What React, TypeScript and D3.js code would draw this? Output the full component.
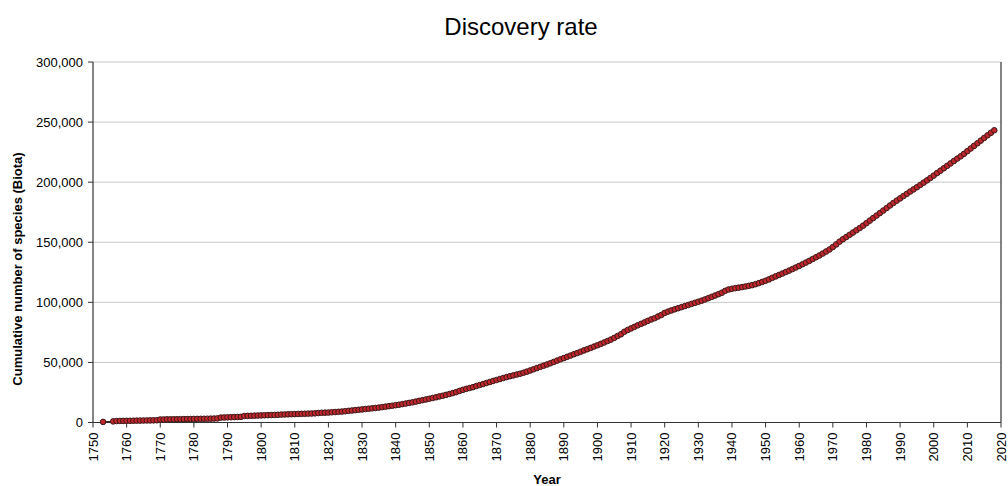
import React from "react";
import * as d3 from "d3";

const years: number[] = [1753, 1756, 1757];
for (let y = 1758; y <= 2018; y++) years.push(y);

const cumulativeSpecies: number[] = [
  500, 900, 1200,
  // 1758-1769
  1300, 1350, 1400, 1450, 1500, 1550, 1600, 1650, 1700, 1750, 1800, 1850,
  // 1770s
  2500, 2550, 2600, 2650, 2700, 2700, 2750, 2800, 2850, 2900,
  // 1780s
  2950, 3000, 3050, 3100, 3150, 3200, 3300, 3400, 4100, 4200,
  // 1790s
  4300, 4400, 4500, 4600, 4700, 5400, 5500, 5600, 5700, 5800,
  // 1800s
  5900, 6000, 6100, 6200, 6300, 6400, 6600, 6700, 6800, 6900,
  // 1810s
  7000, 7100, 7200, 7300, 7400, 7500, 7600, 7900, 8100, 8200,
  // 1820s
  8300, 8500, 8700, 8900, 9100, 9400, 9700, 10000, 10300, 10600,
  // 1830s
  10900, 11200, 11500, 11800, 12100, 12400, 12800, 13200, 13600, 14000,
  // 1840s
  14400, 14800, 15300, 15800, 16300, 16800, 17400, 18000, 18600, 19200,
  // 1850s
  19800, 20400, 21000, 21700, 22300, 23000, 23700, 24500, 25300, 26300,
  // 1860s
  27200, 28000, 28700, 29400, 30400, 31200, 32000, 32900, 33700, 34600,
  // 1870s
  35400, 36200, 37000, 37800, 38500, 39200, 39900, 40600, 41400, 42300,
  // 1880s
  43300, 44300, 45300, 46300, 47300, 48300, 49300, 50400, 51500, 52600,
  // 1890s
  53600, 54700, 55700, 56800, 57800, 58900, 60000, 61000, 62100, 63200,
  // 1900s
  64300, 65400, 66600, 67800, 69000, 70400, 72000, 73400, 75500, 77000,
  // 1910s
  78300, 79600, 80900, 82100, 83300, 84600, 85800, 86800, 88200, 89500,
  // 1920s
  91200, 92300, 93300, 94200, 95100, 96000, 96900, 97800, 98700, 99600,
  // 1930s
  100500, 101400, 102400, 103500, 104600, 105700, 106800, 108000, 109600, 110700,
  // 1940s
  111300, 111800, 112200, 112700, 113200, 113700, 114300, 115100, 116000, 117000,
  // 1950s
  118000, 119100, 120400, 121600, 122800, 124000, 125200, 126400, 127700, 129000,
  // 1960s
  130300, 131700, 133100, 134500, 136000, 137500, 139000, 140600, 142300, 144000,
  // 1970s
  146000, 148200, 150500, 152500, 154400, 156200, 158100, 160000, 161800, 163800,
  // 1980s
  165900, 168000, 170100, 172200, 174300, 176400, 178500, 180600, 182700, 184600,
  // 1990s
  186500, 188400, 190300, 192200, 194000, 195800, 197700, 199600, 201500, 203500,
  // 2000s
  205500, 207600, 209600, 211600, 213600, 215600, 217600, 219600, 221500, 223600,
  // 2010-2018
  225800, 228000, 230200, 232400, 234600, 236800, 239000, 241100, 243200,
];

const xTicks: number[] = d3.range(1750, 2021, 10);
const yTicks: number[] = [0, 50000, 100000, 150000, 200000, 250000, 300000];

const title = "Discovery rate";
const xTitle = "Year";
const yTitle = "Cumulative number of species (Biota)";

const W = 1008;
const H = 486;
const M = { left: 93, right: 1001, top: 62, bottom: 422.5 };
const FONT = "'Liberation Sans', Arial, sans-serif";

export default function App() {
  const x = d3.scaleLinear().domain([1750, 2020]).range([M.left, M.right]);
  const y = d3.scaleLinear().domain([0, 300000]).range([M.bottom, M.top]);
  const fmt = d3.format(",");
  const data = years.map((yr, i) => ({ yr, v: cumulativeSpecies[i] })).filter((d) => d.v !== undefined);
  const line = d3
    .line<{ yr: number; v: number }>()
    .x((d) => x(d.yr))
    .y((d) => y(d.v));

  return (
    <svg
      width={W}
      height={H}
      style={{ position: "absolute", left: 0, top: 0, background: "#fff" }}
      fontFamily={FONT}
    >
      <rect x={0} y={0} width={W} height={H} fill="#fff" />
      <text x={521} y={35} textAnchor="middle" fontSize={24} fill="#000">
        {title}
      </text>

      {/* gridlines */}
      {yTicks.map((t) => (
        <line
          key={"g" + t}
          x1={M.left}
          x2={M.right}
          y1={y(t)}
          y2={y(t)}
          stroke={t === 0 ? "none" : "#c8c8c8"}
          strokeWidth={1}
        />
      ))}

      {/* right border */}
      <line x1={M.right} x2={M.right} y1={M.top} y2={M.bottom} stroke="#333" strokeWidth={1.2} />

      {/* y axis */}
      <line x1={M.left} x2={M.left} y1={M.top} y2={M.bottom} stroke="#333" strokeWidth={1.2} />
      {yTicks.map((t) => (
        <g key={"y" + t}>
          <line x1={M.left - 5} x2={M.left} y1={y(t)} y2={y(t)} stroke="#333" strokeWidth={1} />
          <text x={83} y={y(t) + 4.5} textAnchor="end" fontSize={13} fill="#000">
            {fmt(t)}
          </text>
        </g>
      ))}

      {/* x axis */}
      <line x1={M.left} x2={M.right} y1={M.bottom} y2={M.bottom} stroke="#333" strokeWidth={1.2} />
      {xTicks.map((t) => (
        <g key={"x" + t}>
          <line x1={x(t)} x2={x(t)} y1={M.bottom} y2={M.bottom + 5} stroke="#333" strokeWidth={1} />
          <text
            transform={`translate(${x(t) + 4.5},${M.bottom + 10}) rotate(-90)`}
            textAnchor="end"
            fontSize={13}
            fill="#000"
          >
            {t}
          </text>
        </g>
      ))}

      {/* axis titles */}
      <text x={547} y={484} textAnchor="middle" fontSize={13} fontWeight="bold" fill="#000">
        {xTitle}
      </text>
      <text
        transform={`translate(22,269) rotate(-90)`}
        textAnchor="middle"
        fontSize={13}
        fontWeight="bold"
        fill="#000"
      >
        {yTitle}
      </text>

      {/* series */}
      <path d={line(data) || ""} fill="none" stroke="#3a1a1a" strokeWidth={1.2} />
      {data.map((d) => (
        <circle
          key={d.yr}
          cx={x(d.yr)}
          cy={y(d.v)}
          r={2.8}
          fill="#c0262b"
          stroke="#3a1a1a"
          strokeWidth={1}
        />
      ))}
    </svg>
  );
}
